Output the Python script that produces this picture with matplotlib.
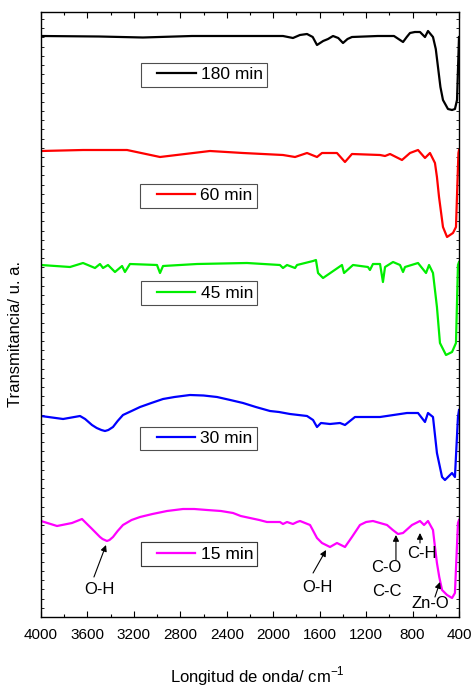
import matplotlib
matplotlib.use("Agg")
import matplotlib.pyplot as plt
from matplotlib.ticker import MultipleLocator
from matplotlib.legend_handler import HandlerLine2D

plt.rcParams['font.family'] = ['Liberation Sans', 'DejaVu Sans']
plt.rcParams['mathtext.fontset'] = 'custom'
plt.rcParams['mathtext.rm'] = 'Liberation Sans'

# wavenumber (cm-1) and transmittance (arbitrary units, curves already offset)
wn_180 = [4000, 3500, 3122, 2700, 2200, 1916, 1830, 1770, 1709, 1660, 1623, 1570, 1528, 1485,
          1440, 1399, 1360, 1322, 1100, 960, 934, 882, 850, 822, 780, 736, 693, 667, 624,
          600, 581, 560, 538, 495, 460, 435, 417, 400]
t_180 = [581, 580.5, 579.5, 581, 581, 581, 579, 582, 583, 580, 572, 576, 578, 581,
         579, 574, 578, 580, 581, 581, 579, 575, 580, 584, 585, 585, 580, 586, 580,
         568, 550, 530, 517, 508, 507, 508, 517, 580]

wn_60 = [4000, 3638, 3259, 2975, 2545, 2260, 1916, 1812, 1709, 1623, 1580, 1451, 1382, 1322,
         1080, 1037, 994, 891, 822, 753, 693, 650, 607, 590, 572, 538, 503, 452, 426, 405, 400]
t_60 = [466, 467, 467, 460, 466, 464, 462, 460, 464, 460, 464, 464, 455, 463,
        462, 461, 463, 457, 464, 467, 459, 464, 454, 440, 420, 390, 380, 384, 390, 464, 467]

wn_45 = [4000, 3750, 3638, 3535, 3492, 3466, 3423, 3363, 3302, 3277, 3234, 3001, 2975, 2949,
         2656, 2226, 1942, 1916, 1881, 1812, 1795, 1657, 1632, 1614, 1571, 1408, 1390, 1313,
         1184, 1167, 1141, 1080, 1055, 1037, 968, 908, 882, 865, 753, 684, 658, 624, 590,
         564, 512, 460, 426, 409, 400]
t_45 = [352, 350, 354, 349, 353, 349, 352, 345, 351, 345, 353, 352, 344, 351,
        353, 354, 352, 349, 352, 349, 352, 356, 357, 344, 339, 352, 344, 352,
        350, 347, 353, 353, 335, 350, 355, 352, 345, 350, 354, 344, 352, 344, 310,
        274, 262, 265, 274, 352, 355]

wn_30 = [4000, 3810, 3664, 3620, 3561, 3520, 3480, 3449, 3420, 3380, 3340, 3294, 3220, 3147,
         3050, 2949, 2850, 2717, 2600, 2484, 2370, 2260, 2150, 2028, 1950, 1856, 1709, 1657,
         1623, 1589, 1511, 1425, 1382, 1296, 1080, 848, 753, 693, 667, 624, 590,
         546, 521, 460, 435, 409, 400]
t_30 = [201, 198, 201, 198, 192, 189, 187, 186, 187, 190, 196, 202, 206, 210,
        214, 218, 220, 222, 221.5, 220, 217, 214, 210, 206, 205, 203, 201, 197,
        190, 194, 193, 194, 192, 200, 200, 204, 204, 195, 204, 200, 164,
        140, 137, 144, 140, 200, 207]

wn_15 = [4000, 3862, 3733, 3647, 3595, 3560, 3492, 3470, 3432, 3410, 3380, 3340, 3294, 3220,
         3147, 3040, 2915, 2777, 2680, 2570, 2450, 2346, 2280, 2200, 2120, 2054, 1942, 1916,
         1881, 1830, 1795, 1769, 1683, 1623, 1580, 1511, 1451, 1382, 1322, 1253, 1200, 1141,
         1020, 970, 925, 882, 805, 736, 701, 667, 624, 607, 590, 570, 546, 503, 460, 435,
         409, 400]
t_15 = [96, 91, 94, 98, 92, 88, 80, 78, 76, 77, 80, 86, 92, 97,
        100, 103, 106, 108, 108, 107, 106, 104, 101, 99, 97, 95, 95, 93,
        95, 93, 95, 96, 92, 79, 74, 70, 74, 70, 80, 92, 95, 96,
        92, 87, 83, 84, 92, 96, 92, 96, 87, 70, 54, 40, 27, 22, 19, 24,
        94, 97]

series = [
    (wn_180, t_180, 'k', '180 min', (0.390, 0.896)),
    (wn_60, t_60, '#ff0000', '60 min', (0.377, 0.696)),
    (wn_45, t_45, '#00ee00', '45 min', (0.378, 0.535)),
    (wn_30, t_30, '#0000ff', '30 min', (0.377, 0.295)),
    (wn_15, t_15, '#ff00ff', '15 min', (0.378, 0.104)),
]

# band labels: text, text position, arrow tip, arrow tail
bands = [
    ('O-H', (3500, 27), (3440, 72), (3544, 40)),
    ('O-H', (1623, 30), (1545, 67), (1657, 44)),
    ('C-O', (1023, 49), (943, 82), (943, 57)),
    ('C-H', (721, 63), (736, 84), (736, 74)),
    ('Zn-O', (650, 14), (564, 35), (607, 20)),
]

fig = plt.figure(figsize=(4.72, 6.90), dpi=100)
ax = fig.add_axes([41 / 472, 73 / 690, 418 / 472, 605 / 690])

for wn, t, c, lab, pos in series:
    line, = ax.plot(wn, t, color=c, lw=1.6)
    leg = ax.legend(handles=[line], labels=[lab], loc='center', bbox_to_anchor=pos,
                    fontsize=12.5, frameon=True, fancybox=False, borderpad=0.25,
                    handlelength=2.9, handletextpad=0.3,
                    handler_map={line: HandlerLine2D(xpad=0.7)})
    leg.get_frame().set_edgecolor('#222222')
    leg.get_frame().set_linewidth(0.8)
    ax.add_artist(leg)

for txt, tpos, tip, tail in bands:
    ax.annotate('', xy=tip, xytext=tail,
                arrowprops=dict(arrowstyle='-|>', color='k', lw=0.8, mutation_scale=9,
                                shrinkA=0, shrinkB=0))
    ax.text(tpos[0], tpos[1], txt, ha='center', va='center', fontsize=12)
ax.text(1023, 25, 'C-C', ha='center', va='center', fontsize=12)

ax.set_xlim(4000, 400)
ax.set_ylim(0, 605)
ax.xaxis.set_major_locator(MultipleLocator(400))
ax.xaxis.set_minor_locator(MultipleLocator(200))
ax.yaxis.set_major_locator(MultipleLocator(9.2))
ax.yaxis.set_minor_locator(MultipleLocator(9.2))
ax.tick_params(axis='x', which='both', direction='in', top=True, labelsize=11, pad=8)
ax.tick_params(axis='x', which='major', length=4.5, width=0.8)
ax.tick_params(axis='x', which='minor', length=2.5, width=0.8)
ax.tick_params(axis='y', which='both', direction='in', right=True, left=True,
               labelleft=False, length=2.2, width=0.6)
for s in ax.spines.values():
    s.set_linewidth(1.0)

ax.set_xlabel('Longitud de onda/ cm$^{-1}$', fontsize=12)
ax.xaxis.set_label_coords(0.518, -0.079)
ax.set_ylabel('Transmitancia/ u. a.', fontsize=12)
ax.yaxis.set_label_coords(-0.043, 0.468)

fig.savefig('out.png', dpi=100)
